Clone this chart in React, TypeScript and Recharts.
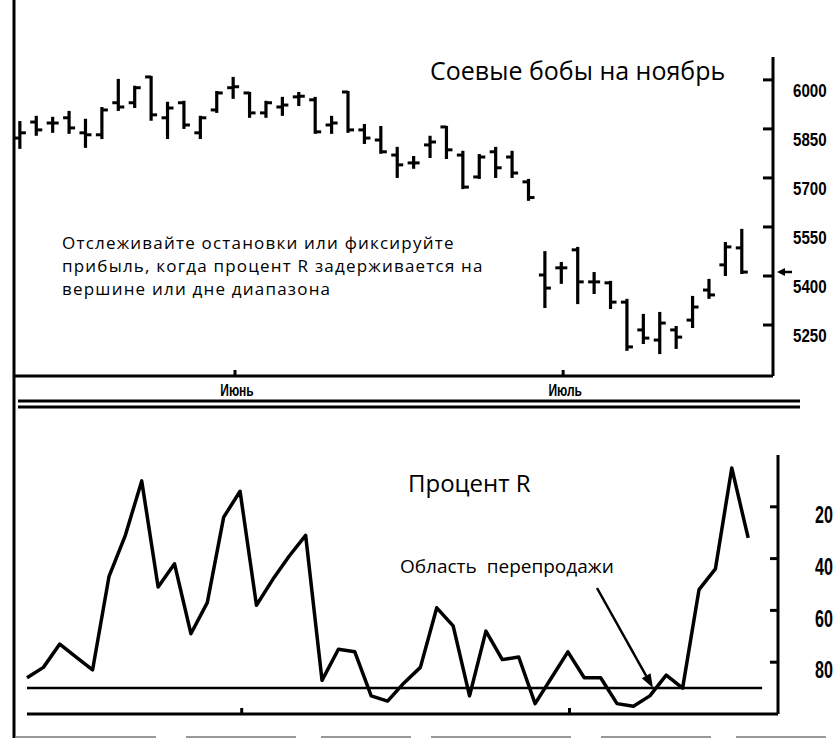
import React from "react";
import { ComposedChart, Bar, XAxis, YAxis, LineChart, Line, ReferenceLine } from "recharts";

// ---- data ----
const opens = [5822, 5871, 5868, 5884, 5838, 5832, 5930, 5930, 6009, 5884, 5930, 5838, 5908, 5976, 5960, 5899, 5917, 5948, 5939, 5862, 5963, 5847, 5816, 5770, 5746, 5801, 5856, 5770, 5703, 5780, 5764, 5688, 5403, 5425, 5480, 5382, 5379, 5320, 5235, 5204, 5235, 5265, 5357, 5434, 5486];
const highs = [5871, 5887, 5884, 5902, 5878, 5914, 6000, 5979, 6009, 5930, 5933, 5887, 5963, 6006, 5960, 5933, 5945, 5960, 5945, 5887, 5963, 5862, 5856, 5792, 5764, 5826, 5856, 5780, 5770, 5792, 5780, 5694, 5473, 5440, 5486, 5409, 5382, 5327, 5281, 5287, 5244, 5336, 5388, 5501, 5541];
const lows = [5792, 5832, 5841, 5838, 5795, 5822, 5908, 5917, 5878, 5822, 5853, 5822, 5902, 5945, 5887, 5887, 5893, 5923, 5838, 5838, 5841, 5807, 5777, 5703, 5731, 5764, 5761, 5669, 5700, 5703, 5703, 5633, 5305, 5379, 5317, 5348, 5302, 5174, 5195, 5164, 5180, 5244, 5333, 5403, 5409];
const closes = [5838, 5847, 5868, 5853, 5832, 5908, 5917, 5976, 5893, 5914, 5862, 5884, 5960, 5979, 5899, 5930, 5923, 5950, 5841, 5868, 5847, 5822, 5780, 5740, 5746, 5810, 5786, 5672, 5764, 5731, 5715, 5640, 5363, 5425, 5382, 5382, 5320, 5183, 5210, 5256, 5213, 5305, 5342, 5489, 5412];
const percentR = [86, 82, 73, 78, 83, 47, 31, 10, 51, 42, 69, 57, 24, 14, 58, 48, 39, 31, 87, 75, 76, 93, 95, 88, 82, 59, 66, 93, 68, 79, 78, 96, 86, 76, 86, 86, 96, 97, 93, 85, 90, 52, 44, 5, 32];
const priceTicks = [5250, 5400, 5550, 5700, 5850, 6000];
const rTicks = [20, 40, 60, 80];
const monthTickPositions = [13.1, 33.1];
const monthLabels = ["Июнь", "Июль"];
const oversoldLevel = 90;

const priceData = opens.map((o, i) => ({
  i,
  open: o,
  high: highs[i],
  low: lows[i],
  close: closes[i],
  range: [lows[i], highs[i]],
}));
const rData = percentR.map((r, i) => ({ i, r }));

const boldFont = "'Liberation Sans', Arial, sans-serif";
const textFont = "'Open Sans', 'Noto Sans', sans-serif";

const OHLCShape = (props: any) => {
  const { x, y, width, height, payload } = props;
  if (x == null || y == null) return null;
  const cx = x + width / 2;
  const top = Math.min(y, y + height);
  const bottom = Math.max(y, y + height);
  const { high, low, open, close } = payload;
  const toY = (v: number) => top + ((high - v) / (high - low || 1)) * (bottom - top);
  return (
    <g>
      <line x1={cx} x2={cx} y1={top - 1} y2={bottom + 1} stroke="#000" strokeWidth={3.2} />
      <line x1={cx - 6} x2={cx} y1={toY(open)} y2={toY(open)} stroke="#000" strokeWidth={3} />
      <line x1={cx} x2={cx + 6} y1={toY(close)} y2={toY(close)} stroke="#000" strokeWidth={3} />
    </g>
  );
};

const NarrowText = ({ x, y, size, sx, anchor = "start", children }: any) => (
  <text
    transform={`translate(${x},${y}) scale(${sx},1)`}
    x={0}
    y={0}
    textAnchor={anchor}
    dominantBaseline="central"
    fontFamily={boldFont}
    fontWeight="bold"
    fontSize={size}
    fill="#000"
  >
    {children}
  </text>
);

const PriceTick = (props: any) => {
  const { x, y, payload } = props;
  return (
    <g>
      <line x1={x - 10} x2={x} y1={y} y2={y} stroke="#000" strokeWidth={3} />
      <NarrowText x={x + 20} y={y + 11} size={18} sx={0.84}>{payload.value}</NarrowText>
    </g>
  );
};

const RTick = (props: any) => {
  const { x, y, payload } = props;
  return (
    <g>
      <line x1={x - 8} x2={x} y1={y} y2={y} stroke="#000" strokeWidth={3} />
      <NarrowText x={x + 37} y={y + 8} size={23} sx={0.7}>{payload.value}</NarrowText>
    </g>
  );
};

const MonthTick = (props: any) => {
  const { x, y, payload } = props;
  const idx = monthTickPositions.indexOf(payload.value);
  return (
    <g>
      <line x1={x} x2={x} y1={y} y2={y - 6} stroke="#000" strokeWidth={3} />
      <NarrowText x={x + 2} y={y + 14} size={16} sx={0.75} anchor="middle">{monthLabels[idx] ?? ""}</NarrowText>
    </g>
  );
};

const PlainUpTick = (props: any) => {
  const { x, y } = props;
  return <line x1={x} x2={x} y1={y} y2={y - 6} stroke="#000" strokeWidth={3} />;
};

const Arrow = ({ x1, y1, x2, y2, head = 14, half = 5, w = 2.5 }: any) => {
  const dx = x2 - x1;
  const dy = y2 - y1;
  const len = Math.sqrt(dx * dx + dy * dy);
  const ux = dx / len;
  const uy = dy / len;
  const bx = x2 - ux * head;
  const by = y2 - uy * head;
  const px = -uy * half;
  const py = ux * half;
  return (
    <g>
      <line x1={x1} y1={y1} x2={bx} y2={by} stroke="#000" strokeWidth={w} />
      <polygon points={`${x2},${y2} ${bx + px},${by + py} ${bx - px},${by - py}`} fill="#000" />
    </g>
  );
};

export default function App() {
  return (
    <div style={{ position: "absolute", left: 0, top: 0, width: 840, height: 740, background: "#fff", overflow: "hidden" }}>
      <div style={{ position: "absolute", left: 0, top: 0 }}>
        <ComposedChart width={840} height={400} data={priceData} margin={{ top: 57, right: 0, left: 13, bottom: 0 }}>
          <XAxis
            dataKey="i"
            type="number"
            domain={[-0.43, 45.89]}
            ticks={monthTickPositions}
            interval={0}
            height={24}
            tickSize={0}
            tickMargin={0}
            tickLine={false}
            axisLine={{ stroke: "#000", strokeWidth: 3 }}
            tick={<MonthTick />}
          />
          <YAxis
            orientation="right"
            type="number"
            domain={[5094, 6070]}
            ticks={priceTicks}
            interval={0}
            width={67}
            tickSize={0}
            tickMargin={0}
            tickLine={false}
            axisLine={{ stroke: "#000", strokeWidth: 3 }}
            tick={<PriceTick />}
          />
          <Bar dataKey="range" barSize={12} isAnimationActive={false} shape={<OHLCShape />} />
        </ComposedChart>
      </div>
      <div style={{ position: "absolute", left: 0, top: 420 }}>
        <LineChart width={840} height={320} data={rData} margin={{ top: 35, right: 0, left: 27, bottom: 0 }}>
          <XAxis
            dataKey="i"
            type="number"
            domain={[0, 45.82]}
            ticks={monthTickPositions}
            interval={0}
            height={26}
            tickSize={0}
            tickMargin={0}
            tickLine={false}
            axisLine={{ stroke: "#000", strokeWidth: 3 }}
            tick={<PlainUpTick />}
          />
          <YAxis
            orientation="right"
            type="number"
            reversed
            domain={[0, 100]}
            ticks={rTicks}
            interval={0}
            width={62}
            tickSize={0}
            tickMargin={0}
            tickLine={false}
            axisLine={{ stroke: "#000", strokeWidth: 3 }}
            tick={<RTick />}
          />
          <ReferenceLine
            segment={[{ x: 0, y: oversoldLevel }, { x: 44.85, y: oversoldLevel }]}
            stroke="#000"
            strokeWidth={2.5}
          />
          <Line type="linear" dataKey="r" stroke="#000" strokeWidth={3.5} dot={false} isAnimationActive={false} strokeLinejoin="round" />
        </LineChart>
      </div>
      <svg width={840} height={740} style={{ position: "absolute", left: 0, top: 0, pointerEvents: "none" }}>
        <line x1={14} y1={0} x2={14} y2={738} stroke="#000" strokeWidth={3} />
        <line x1={18} y1={401} x2={800} y2={401} stroke="#000" strokeWidth={3} />
        <line x1={18} y1={407} x2={800} y2={407} stroke="#000" strokeWidth={3} />
        <line x1={16} y1={737} x2={836} y2={737} stroke="#999" strokeWidth={2} strokeDasharray="140 30 110 25 90 20" />
        <text x={430} y={80} fontFamily={textFont} fontSize={25} fill="#000">Соевые бобы на ноябрь</text>
        <text fontFamily={textFont} fontSize={17} letterSpacing={1.2} fill="#000">
          <tspan x={62} y={249}>Отслеживайте остановки или фиксируйте</tspan>
          <tspan x={62} y={272}>прибыль, когда процент R задерживается на</tspan>
          <tspan x={62} y={295}>вершине или дне диапазона</tspan>
        </text>
        <text x={408} y={492} fontFamily={textFont} fontSize={24} fill="#000">Процент R</text>
        <text x={400} y={573} fontFamily={textFont} fontSize={19} fill="#000" wordSpacing={5}>Область перепродажи</text>
        <Arrow x1={597} y1={588} x2={653} y2={688} />
        <Arrow x1={792} y1={272} x2={777} y2={272} head={8} half={4} w={2.5} />
      </svg>
    </div>
  );
}
